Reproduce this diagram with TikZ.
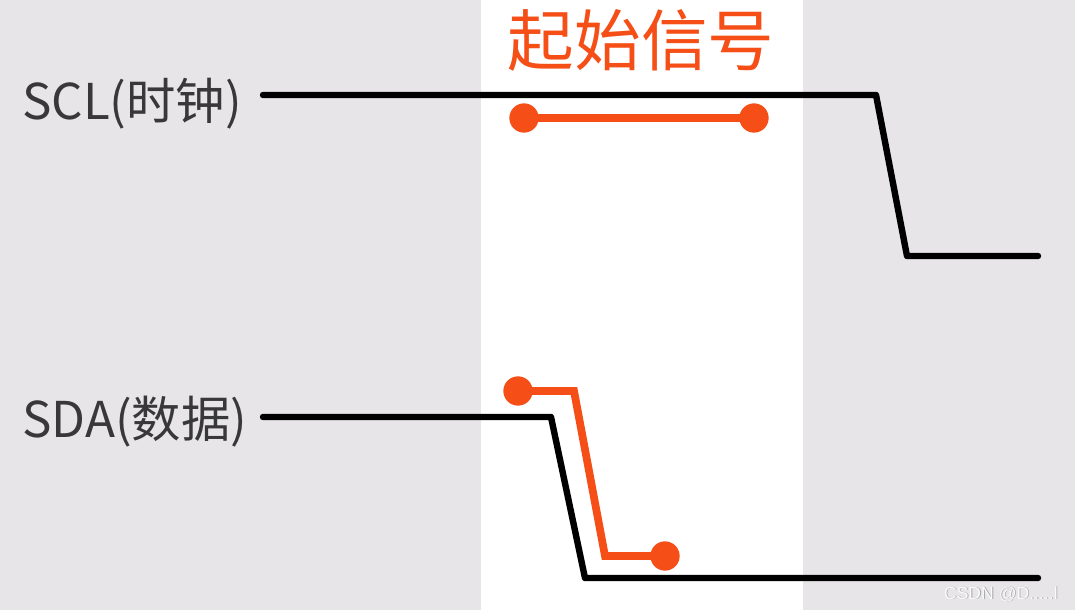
\documentclass[tikz,border=0pt]{standalone}
\usepackage{fontspec}
\setmainfont{Noto Sans CJK SC}
\newfontfamily\cjk{Noto Sans CJK SC}
\newfontfamily\wmfont{Liberation Sans}
\definecolor{bggray}{RGB}{231,229,232}
\definecolor{sigorange}{RGB}{245,78,22}
\definecolor{wmgray}{RGB}{250,250,250}
\definecolor{wmshadow}{RGB}{165,165,165}
\tikzset{
  wave/.style={line width=4.8pt, black, line join=round, line cap=round},
  hiline/.style={line width=5.8pt, sigorange, line join=miter},
  dotend/.style={circle, fill=sigorange, inner sep=0pt, minimum size=22pt},
  siglabel/.style={anchor=base west, inner sep=0pt, font=\cjk\fontsize{37}{40}\selectfont, text=black!78},
  titlelabel/.style={anchor=base, inner sep=0pt, font=\cjk\fontsize{50}{54}\selectfont, text=sigorange},
  wmtext/.style={anchor=base east, inner sep=0pt, font=\wmfont\fontsize{13.2}{15}\selectfont},
}
\begin{document}
\begin{tikzpicture}[x=0.75pt, y=-0.75pt]
  \useasboundingbox (0,0) rectangle (1075,610);
  \fill[bggray] (0,0) rectangle (1075,610);
  \fill[white] (481,0) rectangle (803,610);

  % labels
  \node[siglabel] (scllabel) at (22,119) {SCL(时钟)};
  \node[siglabel] (sdalabel) at (22,437) {SDA(数据)};
  \node[titlelabel] (title) at (641,66) {起始信号};

  % SCL waveform
  \coordinate (scl0) at (263,95);
  \coordinate (scl1) at (876,95);
  \coordinate (scl2) at (907,256);
  \coordinate (scl3) at (1038,256);
  \draw[wave] (scl0) -- (scl1) -- (scl2) -- (scl3);

  % SDA waveform
  \coordinate (sda0) at (263,417);
  \coordinate (sda1) at (551,417);
  \coordinate (sda2) at (585,578);
  \coordinate (sda3) at (1038,578);
  \draw[wave] (sda0) -- (sda1) -- (sda2) -- (sda3);

  % SCL high marker
  \node[dotend] (ma) at (524,118) {};
  \node[dotend] (mb) at (754,118) {};
  \draw[hiline] (ma.center) -- (mb.center);

  % SDA falling marker
  \node[dotend] (da) at (518,391) {};
  \coordinate (db) at (574,391);
  \coordinate (dc) at (605,556);
  \node[dotend] (dd) at (665,556) {};
  \draw[hiline] (da.center) -- (db) -- (dc) -- (dd.center);

  % watermark
  \node[wmtext, text=wmshadow] at (1058.8,599.8) {CSDN @D.....l};
  \node[wmtext, text=wmgray] (wm) at (1058,599) {CSDN @D.....l};
\end{tikzpicture}
\end{document}
